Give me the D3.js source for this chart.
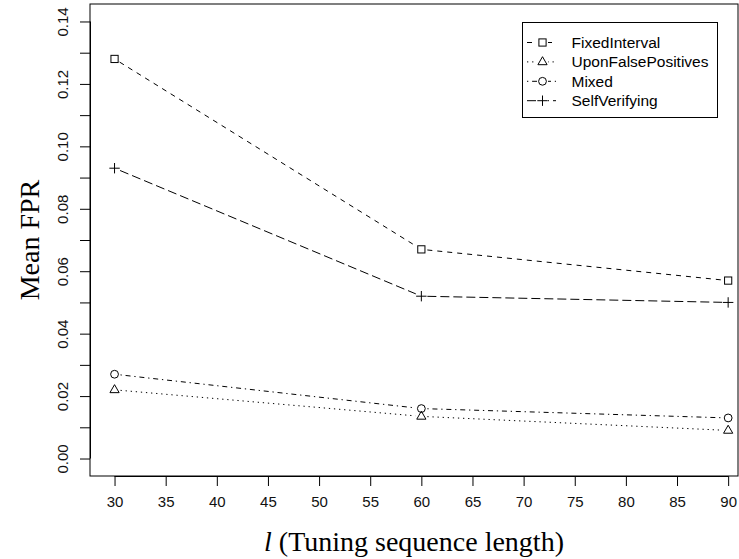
<!DOCTYPE html>
<html><head><meta charset="utf-8">
<script src="https://cdn.jsdelivr.net/npm/d3@7"></script>
<style>body{margin:0;background:#fff}svg{display:block}</style>
</head><body>
<svg id="c" width="739" height="559"></svg>
<script>
const lengths = [30, 60, 90];
const fixedInterval = [0.128, 0.067, 0.057];
const uponFalsePositives = [0.022, 0.0135, 0.009];
const mixed = [0.027, 0.016, 0.013];
const selfVerifying = [0.093, 0.052, 0.050];
const seriesNames = ["FixedInterval", "UponFalsePositives", "Mixed", "SelfVerifying"];
const xTicks = [30,35,40,45,50,55,60,65,70,75,80,85,90];
const yTicks = [0,0.01,0.02,0.03,0.04,0.05,0.06,0.07,0.08,0.09,0.10,0.11,0.12,0.13,0.14];
const yLabelTicks = [0,0.02,0.04,0.06,0.08,0.10,0.12,0.14];

const svg = d3.select("#c");
const L = 90, R = 738, T = 4, B = 476;
const x = d3.scaleLinear().domain([27.6, 92.4]).range([L, 752.7]);
const y = d3.scaleLinear().domain([-0.0056, 0.1456]).range([B, T]);

const values = [fixedInterval, uponFalsePositives, mixed, selfVerifying];
const dashes = ["5,5", "1.3,3.8", "1.3,3.8,5,3.8", "9,4"];
const shapes = ["square", "triangle", "circle", "plus"];
const sans = "Liberation Sans, Arial, Helvetica, sans-serif";
const serif = "Liberation Serif, Times New Roman, serif";

// box
svg.append("rect").attr("x", L).attr("y", T).attr("width", R - L).attr("height", B - T)
  .attr("fill", "none").attr("stroke", "#000").attr("stroke-width", 1);

// axes
const xAxis = d3.axisBottom(x).tickValues(xTicks).tickSize(10).tickPadding(10).tickFormat(d3.format("d"));
const gx = svg.append("g").attr("transform", `translate(0,${B})`).call(xAxis);
gx.select(".domain").attr("d", `M${x(30)},0.5H${x(90)}`);
gx.selectAll("text").attr("font-family", sans).attr("font-size", 15).attr("fill", "#111");

const yAxis = d3.axisLeft(y).tickValues(yTicks).tickSize(10).tickPadding(0)
  .tickFormat(d => yLabelTicks.some(v => Math.abs(v - d) < 1e-9) ? d3.format(".2f")(d) : "");
const gy = svg.append("g").attr("transform", `translate(${L},0)`).call(yAxis);
gy.select(".domain").attr("d", `M0.5,${y(0)}V${y(0.14)}`);
gy.selectAll("text")
  .attr("font-family", sans).attr("font-size", 15).attr("fill", "#111")
  .attr("text-anchor", "middle").attr("dy", null).attr("x", null)
  .attr("transform", "translate(-28,0) rotate(-90)").attr("dominant-baseline", "central");
svg.selectAll(".tick line").attr("stroke", "#000");

// axis titles
const xt = svg.append("text").attr("x", 414).attr("y", 551).attr("text-anchor", "middle")
  .attr("font-family", serif).attr("font-size", 28).attr("fill", "#000");
xt.append("tspan").attr("font-style", "italic").text("l");
xt.append("tspan").text(" (Tuning sequence length)");
svg.append("text").attr("transform", `translate(39,${(T + B) / 2}) rotate(-90)`).attr("text-anchor", "middle")
  .attr("font-family", serif).attr("font-size", 28).attr("fill", "#000")
  .text("Mean FPR");

function drawSymbol(g, shape, cx, cy) {
  const s = g.append("g").attr("transform", `translate(${cx},${cy})`).attr("fill", "none").attr("stroke", "#000").attr("stroke-width", 1);
  if (shape === "square") s.append("rect").attr("x", -3.6).attr("y", -3.6).attr("width", 7.2).attr("height", 7.2);
  else if (shape === "circle") s.append("circle").attr("r", 3.9);
  else if (shape === "triangle") s.append("path").attr("d", "M0,-5.2L4.6,2.8L-4.6,2.8Z");
  else if (shape === "plus") s.append("path").attr("d", "M-5.2,0H5.2M0,-5.2V5.2");
}

const gap = 6;
values.forEach((vals, i) => {
  const g = svg.append("g");
  const pts = lengths.map((l, j) => [x(l), y(vals[j])]);
  for (let j = 0; j < pts.length - 1; j++) {
    const [x1, y1] = pts[j], [x2, y2] = pts[j + 1];
    const dx = x2 - x1, dy = y2 - y1, len = Math.hypot(dx, dy);
    const ux = dx / len, uy = dy / len;
    g.append("line").attr("x1", x1 + ux * gap).attr("y1", y1 + uy * gap)
      .attr("x2", x2 - ux * gap).attr("y2", y2 - uy * gap)
      .attr("stroke", "#000").attr("stroke-width", 1).attr("stroke-dasharray", dashes[i]);
  }
  pts.forEach(p => drawSymbol(g, shapes[i], p[0], p[1]));
});

// legend
const lg = svg.append("g");
lg.append("rect").attr("x", 522.5).attr("y", 22.5).attr("width", 195).attr("height", 95)
  .attr("fill", "#fff").attr("stroke", "#000").attr("stroke-width", 1);
seriesNames.forEach((name, i) => {
  const cy = 42.5 + i * 19.4;
  lg.append("line").attr("x1", 527).attr("x2", 556).attr("y1", cy).attr("y2", cy)
    .attr("stroke", "#000").attr("stroke-dasharray", dashes[i]);
  lg.append("rect").attr("x", 537).attr("y", cy - 5).attr("width", 11).attr("height", 10).attr("fill", "#fff");
  drawSymbol(lg, shapes[i], 542.5, cy);
  lg.append("text").attr("x", 571.5).attr("y", cy).attr("dominant-baseline", "central")
    .attr("font-family", sans).attr("font-size", 15.5).attr("fill", "#000").text(name);
});
</script>
</body></html>
